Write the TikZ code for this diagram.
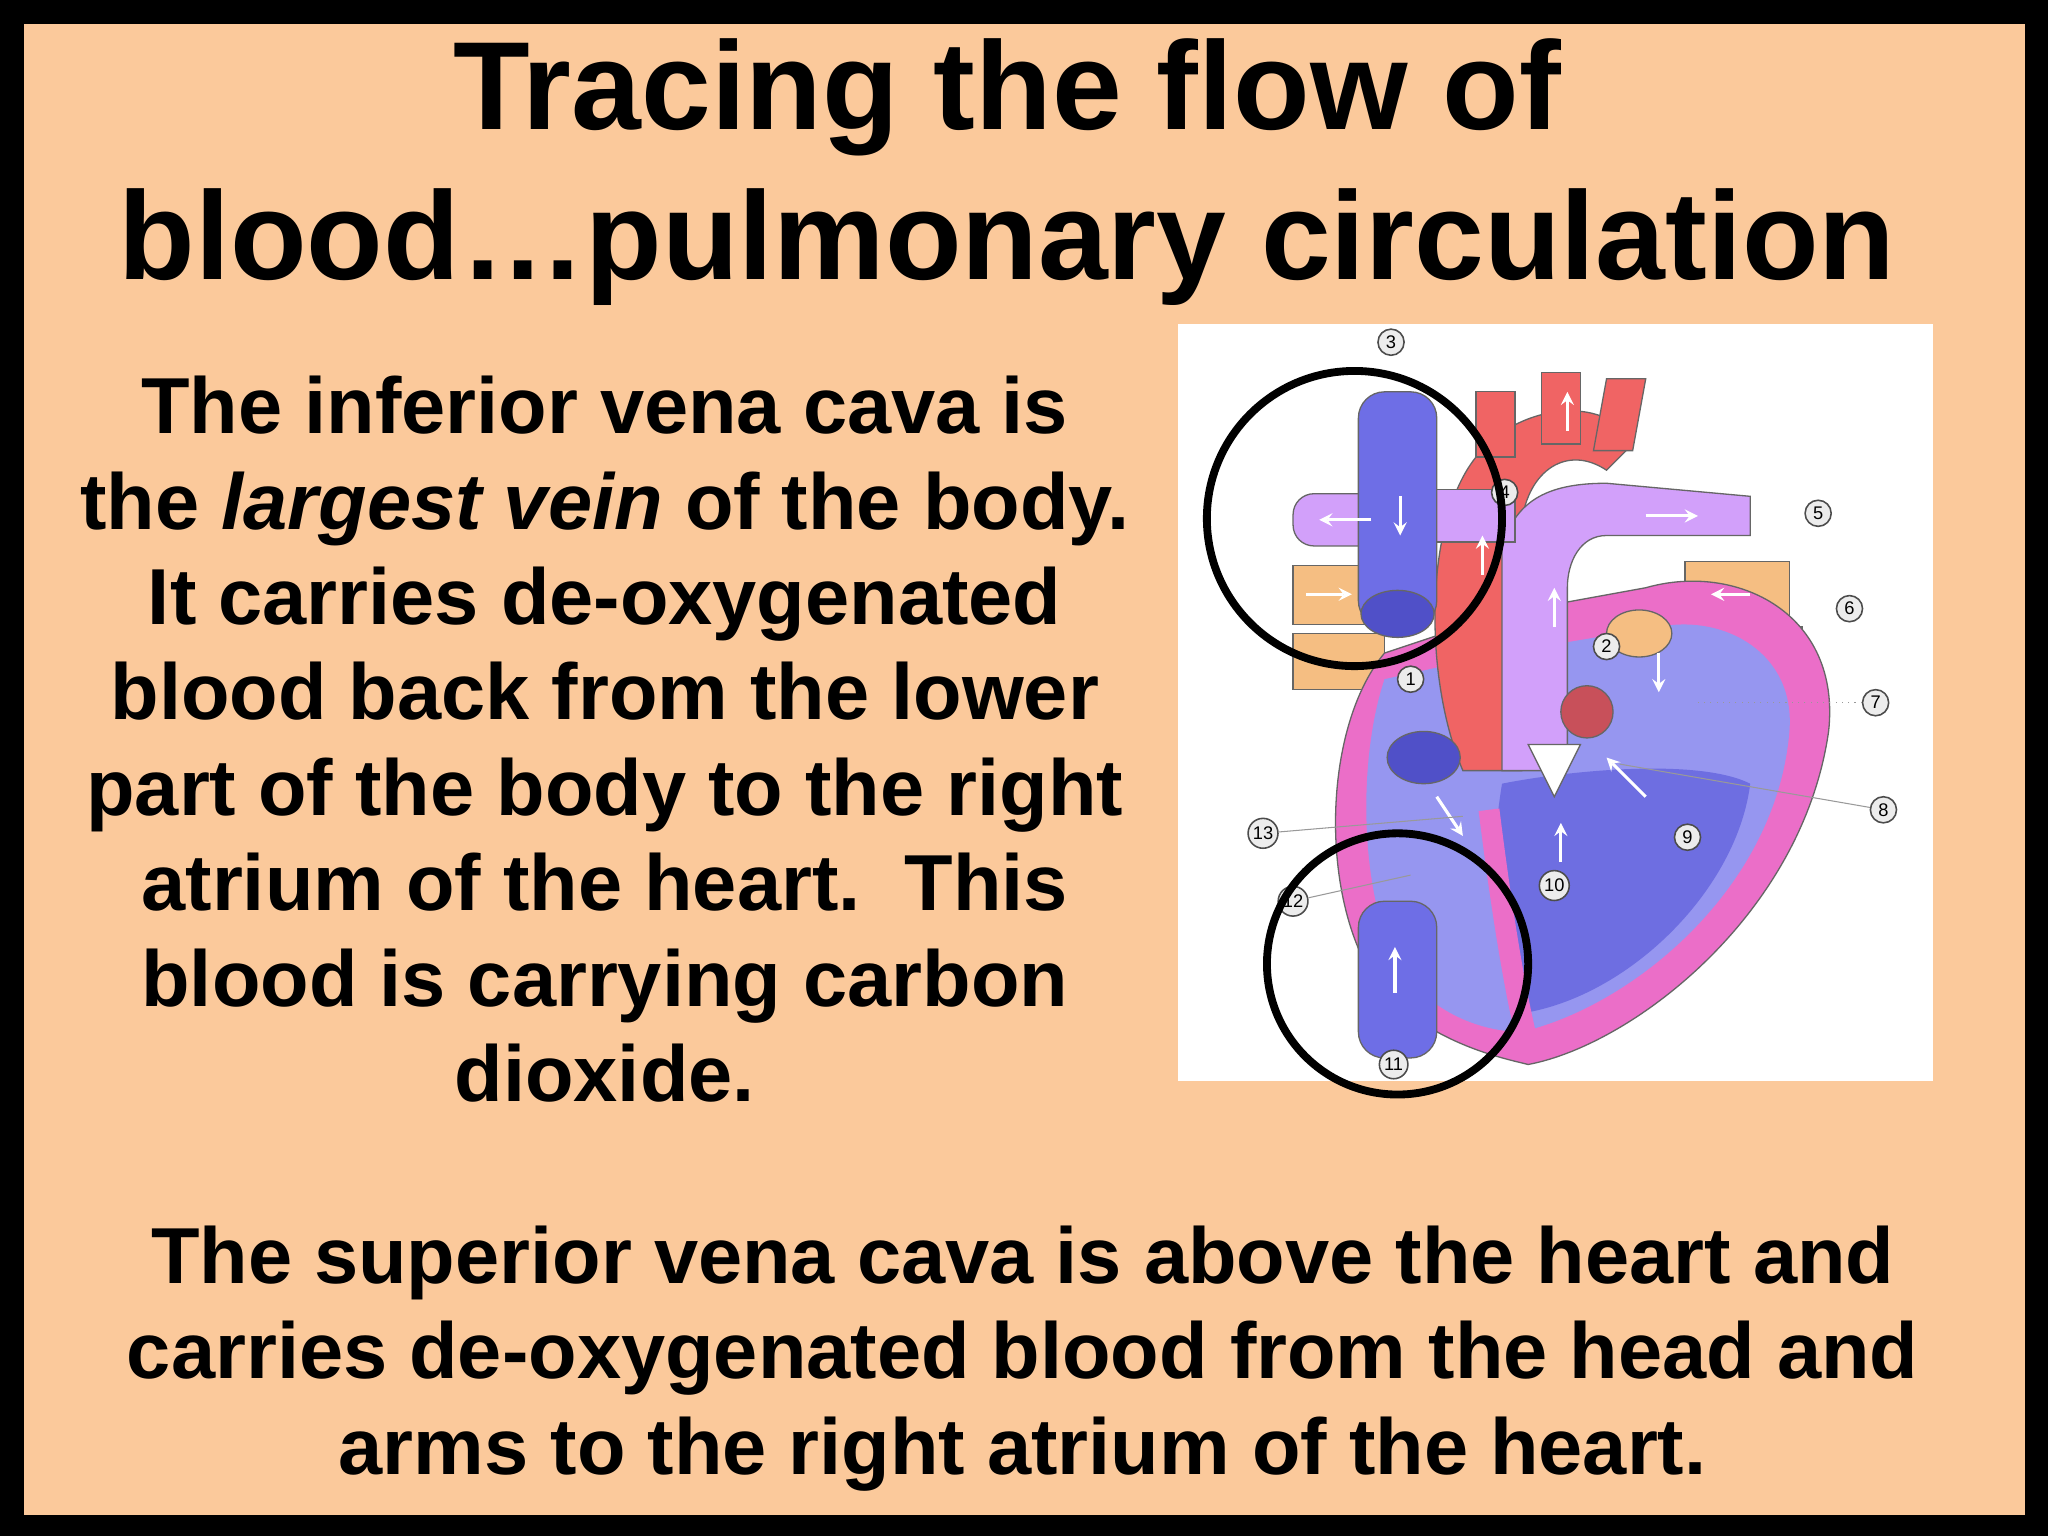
\documentclass[tikz,border=0pt]{standalone}
\usepackage{fontspec}
\setmainfont{Liberation Sans}
\definecolor{peach}{RGB}{251,201,155}
\definecolor{orng}{RGB}{245,190,130}
\definecolor{pinkh}{RGB}{235,110,200}
\definecolor{lblue}{RGB}{150,150,240}
\definecolor{dblue}{RGB}{110,110,225}
\definecolor{vblue}{RGB}{110,110,230}
\definecolor{ddblue}{RGB}{80,80,200}
\definecolor{redh}{RGB}{240,100,100}
\definecolor{purp}{RGB}{210,160,250}
\definecolor{valv}{RGB}{200,80,90}
\begin{document}
\begin{tikzpicture}[x=0.5pt,y=-0.5pt,
  txt/.style={font=\bfseries\fontsize{30.4}{36.5}\selectfont,align=center,inner sep=0},
  num/.style={circle,draw=black!70,fill=white!85!gray,line width=0.6pt,inner sep=0.8pt,minimum size=10pt,font=\fontsize{7}{7}\selectfont},
  lead/.style={draw=black!40,line width=0.4pt},
  ring/.style={draw=black,line width=3pt},
  part/.style={draw=black!60,line width=0.5pt}]
\fill[black] (0,0) rectangle (1568,1176);
\fill[peach] (18,18) rectangle (1550,1160);
\node[font=\bfseries\fontsize{48}{57.5}\selectfont,align=center] (title) at (771,132) {Tracing the flow of\\blood\dots pulmonary circulation};
\node[txt] (body) at (463,566) {The inferior vena cava is\\the \textit{largest vein} of the body.\\It carries de-oxygenated\\blood back from the lower\\part of the body to the right\\atrium of the heart.\ \ This\\blood is carrying carbon\\dioxide.};
\node[txt] (bottom) at (783,1040) {The superior vena cava is above the heart and\\carries de-oxygenated blood from the head and\\arms to the right atrium of the heart.};
% heart picture
\fill[white] (902,248) rectangle (1480,828);
\filldraw[part,fill=orng] (990,433) rectangle (1060,478);
\filldraw[part,fill=orng] (990,485) rectangle (1060,528);
\filldraw[part,fill=orng] (1290,430) rectangle (1370,478);
\filldraw[part,fill=orng] (1300,480) rectangle (1380,528);
\filldraw[part,fill=pinkh]
 (1060,500) .. controls (1010,560) and (1010,700) .. (1060,760) .. controls (1100,800) and (1150,810) .. (1170,815)
 .. controls (1250,800) and (1380,700) .. (1400,560) .. controls (1410,470) and (1330,430) .. (1260,450) -- (1150,470) -- cycle;
\fill[lblue] (1060,520) .. controls (1040,580) and (1040,680) .. (1070,740) .. controls (1100,780) and (1140,790) .. (1165,790)
 .. controls (1250,770) and (1360,680) .. (1370,560) .. controls (1375,500) and (1320,470) .. (1270,480) -- (1150,500) -- cycle;
\fill[dblue] (1150,600) .. controls (1200,590) and (1300,580) .. (1340,600) .. controls (1330,680) and (1250,760) .. (1170,775) .. controls (1140,740) and (1140,660) .. cycle;
\draw[pinkh,line width=8pt] (1140,620) .. controls (1150,700) and (1160,760) .. (1170,800);
\filldraw[part,fill=redh]
 (1120,590) .. controls (1090,520) and (1090,400) .. (1130,350) .. controls (1160,310) and (1230,300) .. (1250,340) -- (1230,360)
 .. controls (1200,340) and (1170,360) .. (1165,400) -- (1165,590) -- cycle;
\filldraw[part,fill=redh] (1130,300) rectangle (1160,350);
\filldraw[part,fill=redh] (1180,285) rectangle (1210,340);
\filldraw[part,fill=redh] (1230,290) -- (1260,290) -- (1250,345) -- (1220,345) -- cycle;
\filldraw[part,fill=purp]
 (1150,590) -- (1150,420) .. controls (1160,380) and (1190,370) .. (1230,370) -- (1340,380) -- (1340,410) -- (1230,410) .. controls (1210,410) and (1200,430) .. (1200,450) -- (1200,590) -- cycle;
\filldraw[part,fill=purp] (1100,375) rectangle (1160,415);
\filldraw[part,fill=purp,rounded corners=8pt] (990,378) rectangle (1060,418);
\filldraw[part,fill=vblue,rounded corners=10pt] (1040,300) rectangle (1100,480);
\filldraw[part,fill=vblue,rounded corners=10pt] (1040,690) rectangle (1100,810);
\filldraw[part,fill=ddblue] (1070,470) ellipse (28 and 18);
\filldraw[part,fill=ddblue] (1090,580) ellipse (28 and 20);
\filldraw[part,fill=white] (1170,570) -- (1190,610) -- (1210,570) -- cycle;
\filldraw[part,fill=valv] (1215,545) circle (20);
\filldraw[part,fill=orng] (1255,485) ellipse (25 and 18);
\foreach \a/\b in {{(1072,380)/(1072,410)},{(1068,760)/(1068,725)},{(1200,330)/(1200,300)},{(1135,440)/(1135,410)},{(1260,395)/(1300,395)},{(1050,398)/(1010,398)},{(1000,455)/(1035,455)},{(1340,455)/(1310,455)},{(1270,500)/(1270,530)},{(1190,480)/(1190,450)},{(1100,610)/(1120,640)},{(1260,610)/(1230,580)},{(1195,660)/(1195,630)}}
  \draw[white,line width=1.2pt,-stealth] \a -- \b;
\node[num] (n3) at (1065,262) {3};
\node[num] (n4) at (1152,377) {4};
\node[num] (n5) at (1392,393) {5};
\node[num] (n6) at (1416,466) {6};
\node[num] (n7) at (1436,538) {7};
\node[num] (n8) at (1442,620) {8};
\node[num] (n2) at (1230,495) {2};
\node[num] (n1) at (1080,520) {1};
\node[num] (n9) at (1292,641) {9};
\node[num] (n10) at (1190,678) {10};
\node[num] (n13) at (967,638) {13};
\node[num] (n12) at (990,690) {12};
\node[num] (n11) at (1067,815) {11};
\coordinate (c7) at (1300,538); \coordinate (c8) at (1240,585);
\coordinate (c13) at (1120,625); \coordinate (c12) at (1080,670);
\draw[lead,dotted] (n7) -- (c7);
\draw[lead] (n8) -- (c8);
\draw[lead] (n13) -- (c13);
\draw[lead] (n12) -- (c12);
\draw[ring] (1037,397) circle (113);
\draw[ring] (1070,738) circle (100);
\end{tikzpicture}
\end{document}
